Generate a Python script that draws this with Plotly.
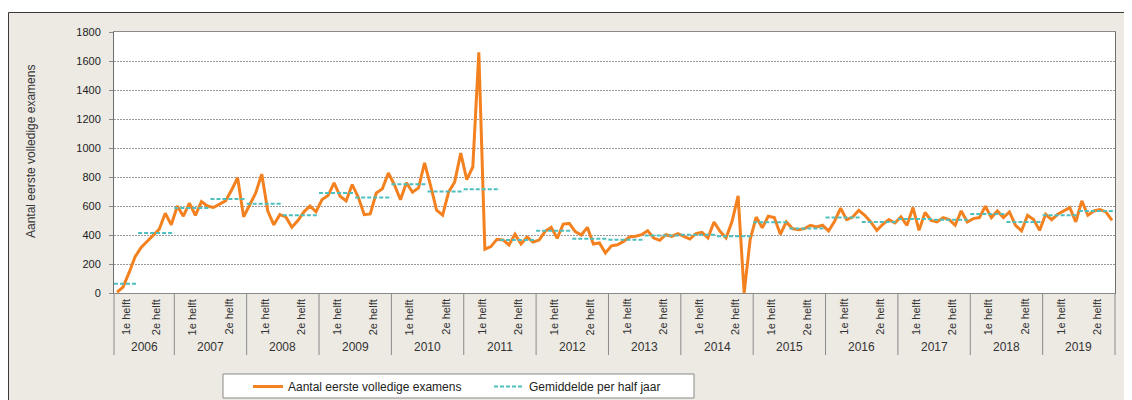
import plotly.graph_objects as go

# ---------------- data ----------------
years = [str(y) for y in range(2006, 2020)]
half_labels = ["1e helft", "2e helft"]
# number of monthly observations per half year (2006 starts in March)
months_per_half = [4, 6] + [6, 6] * 13

exams = [
    # 2006 (Mar-Dec)
    5, 40, 140, 250, 315, 355, 395, 440, 550, 470,
    # 2007
    600, 530, 620, 535, 630, 600, 590, 615, 635, 710, 795, 525,
    # 2008
    610, 690, 820, 565, 470, 540, 525, 453, 500, 560, 600, 560,
    # 2009
    644, 672, 760, 667, 635, 748, 662, 540, 545, 690, 718, 828,
    # 2010
    745, 644, 760, 695, 725, 897, 740, 571, 537, 697, 766, 965,
    # 2011
    782, 869, 1660, 302, 320, 370, 366, 331, 405, 338, 385, 352,
    # 2012
    365, 425, 453, 377, 475, 480, 423, 400, 453, 338, 345, 276,
    # 2013
    325, 333, 356, 386, 391, 402, 430, 379, 363, 402, 391, 409,
    # 2014
    391, 372, 409, 418, 380, 490, 425, 380, 494, 670, 0, 370,
    # 2015
    524, 450, 529, 520, 405, 490, 444, 437, 444, 467, 455, 467,
    # 2016
    428, 495, 585, 506, 524, 570, 536, 490, 432, 474, 506, 483,
    # 2017
    525, 467, 589, 432, 555, 500, 490, 520, 506, 467, 566, 490,
    # 2018
    513, 520, 598, 520, 566, 520, 559, 467, 428, 536, 506, 432,
    # 2019
    543, 506, 543, 566, 589, 490, 635, 536, 566, 575, 559, 501,
]

half_avg = [
    64, 414,    # 2006
    587, 649,   # 2007
    615, 536,   # 2008
    690, 658,   # 2009
    750, 700,   # 2010
    715, 366,   # 2011
    430, 374,   # 2012
    368, 396,   # 2013
    402, 391,   # 2014
    488, 444,   # 2015
    520, 490,   # 2016
    510, 506,   # 2017
    545, 490,   # 2018
    536, 566,   # 2019
]

# ---------------- derived positions ----------------
n_months = sum(months_per_half)
x_month = [i + 0.5 for i in range(n_months)]

avg_x, avg_y = [], []
half_starts = []
s = 0
for n, v in zip(months_per_half, half_avg):
    half_starts.append(s)
    avg_x += [s, s + n, None]
    avg_y += [v, v, None]
    s += n

year_starts = half_starts[0::2] + [n_months]

OFF = 8                      # page body margin
W, H = 1132 - OFF, 400 - OFF
ML = 114 - OFF
MT = 32 - OFF
MR = W - (1115 - OFF)
MB = H - (293 - OFF)
PW, PH = W - ML - MR, H - MT - MB


def px_x(page_x):
    return (page_x - OFF - ML) / PW


def px_y(page_y):
    return (H - MB - (page_y - OFF)) / PH


BG = "#EDEAE4"
ORANGE = "#F4811F"
TEAL = "#4DBFBF"
GRID = "#9a9a9a"
AXIS = "#8a8a8a"
FONT = "Liberation Sans, Arial, sans-serif"

fig = go.Figure()
fig.add_trace(go.Scatter(
    x=x_month, y=exams, mode="lines", name="Aantal eerste volledige examens",
    line=dict(color=ORANGE, width=3), hoverinfo="y",
))
fig.add_trace(go.Scatter(
    x=avg_x, y=avg_y, mode="lines", name="Gemiddelde per half jaar",
    line=dict(color=TEAL, width=2, dash="4px,2px"), connectgaps=False, hoverinfo="y",
))

shapes = [
    # beige outer frame
    dict(type="rect", xref="paper", yref="paper", layer="below",
         x0=px_x(8.5), x1=px_x(1160), y0=px_y(12.5), y1=px_y(430),
         fillcolor=BG, line=dict(color="#3a3a3a", width=1)),
    # white plotting area
    dict(type="rect", xref="paper", yref="paper", layer="below",
         x0=0, x1=1, y0=0, y1=1, fillcolor="white", line=dict(width=0)),
    # legend box
    dict(type="rect", xref="paper", yref="paper", layer="below",
         x0=px_x(223), x1=px_x(694), y0=px_y(374), y1=px_y(398),
         fillcolor="white", line=dict(color="#8a8a8a", width=1)),
]
for b in year_starts:
    shapes.append(dict(type="line", xref="paper", yref="paper",
                       x0=b / n_months, x1=b / n_months, y0=0, y1=px_y(355),
                       line=dict(color=AXIS, width=1)))

annotations = []
for k, (st, n) in enumerate(zip(half_starts, months_per_half)):
    annotations.append(dict(
        x=st + n / 2, xref="x", y=px_y(317), yref="paper",
        text=half_labels[k % 2], textangle=-90, showarrow=False,
        xanchor="center", yanchor="middle",
        font=dict(family=FONT, size=11, color="#333333")))
for k, yr in enumerate(years):
    annotations.append(dict(
        x=(year_starts[k] + year_starts[k + 1]) / 2, xref="x", y=px_y(347), yref="paper",
        text=yr, showarrow=False, xanchor="center", yanchor="middle",
        font=dict(family=FONT, size=12, color="#333333")))
annotations.append(dict(
    x=px_x(31), xref="paper", y=px_y(152), yref="paper",
    text="Aantal eerste volledige examens", textangle=-90, showarrow=False,
    xanchor="center", yanchor="middle",
    font=dict(family=FONT, size=12, color="#333333")))

fig.update_layout(
    template="none",
    width=W, height=H,
    margin=dict(l=ML, r=MR, t=MT, b=MB, pad=0, autoexpand=False),
    paper_bgcolor="white",
    plot_bgcolor="rgba(0,0,0,0)",
    font=dict(family=FONT, size=11, color="#333333"),
    showlegend=True,
    legend=dict(
        orientation="h", x=px_x(248), xanchor="left", y=px_y(386.5), yanchor="middle",
        bgcolor="rgba(0,0,0,0)", borderwidth=0,
        font=dict(family=FONT, size=12, color="#222222"),
        entrywidth=196, itemwidth=30,
    ),
    shapes=shapes,
    annotations=annotations,
    hovermode="closest",
)
fig.update_xaxes(
    range=[0, n_months], showticklabels=False, showgrid=False, zeroline=False,
    showline=True, linecolor=AXIS, linewidth=1, mirror=True, ticks="",
    automargin=False,
)
fig.update_yaxes(
    range=[0, 1800], dtick=200, tick0=0, showgrid=True, gridcolor=GRID,
    griddash="2px,1px", gridwidth=1, zeroline=False,
    showline=True, linecolor="#6e6e6e", linewidth=1, mirror=True,
    ticks="outside", ticklen=4, tickcolor=AXIS, ticklabelstandoff=6,
    tickfont=dict(family=FONT, size=11, color="#222222"),
    automargin=False,
)

fig.write_html("out.html")
